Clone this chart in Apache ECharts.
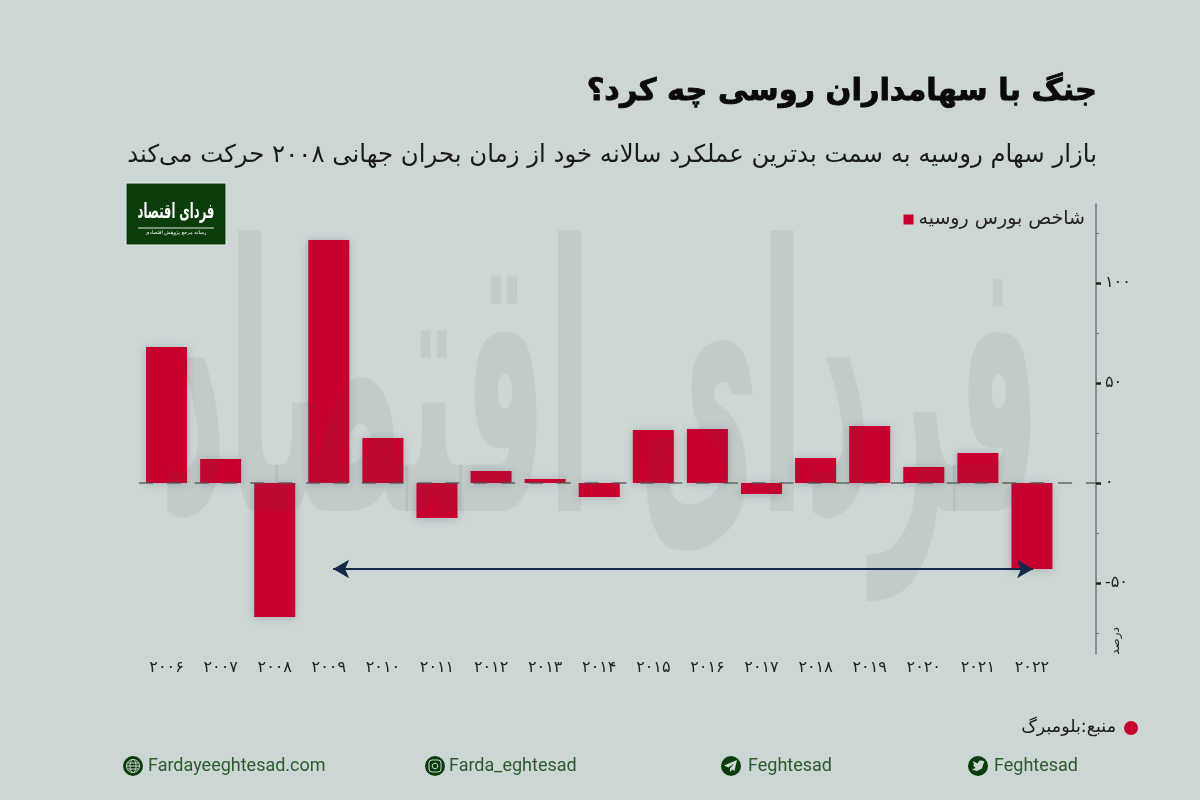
<!DOCTYPE html>
<html dir="rtl"><head><meta charset="utf-8">
<style>html,body{margin:0;padding:0;background:#ccd6d5}#c{position:absolute;left:0;top:0;width:1200px;height:800px}</style>
<script src="https://cdn.jsdelivr.net/npm/echarts@6/dist/echarts.min.js"></script>
</head><body><div id="c"></div>
<script>
const categories=['۲۰۰۶','۲۰۰۷','۲۰۰۸','۲۰۰۹','۲۰۱۰','۲۰۱۱','۲۰۱۲','۲۰۱۳','۲۰۱۴','۲۰۱۵','۲۰۱۶','۲۰۱۷','۲۰۱۸','۲۰۱۹','۲۰۲۰','۲۰۲۱','۲۰۲۲'];
const indexValues=[68,12,-67,121.5,22.5,-17.5,6,2,-7,26.5,27,-5.5,12.5,28.5,8,15,-43];
const majorTicks=[-50,0,50,100];
const minorTicks=[-75,-25,25,75,125];
const arrowSpan=[3.08,16.02];
const arrowLevel=-43;
const seriesName='شاخص بورس روسیه';
const titleText='جنگ با سهامداران روسی چه کرد؟';
const subtitleText='بازار سهام روسیه به سمت بدترین عملکرد سالانه خود از زمان بحران جهانی ۲۰۰۸ حرکت می‌کند';
const sourceText='منبع:بلومبرگ';
const unitText='درصد';
const logoText='فردای اقتصاد';
const logoCaption='رسانه مرجع پژوهش اقتصادی';
const socials=[['Fardayeeghtesad.com',133,148],['Farda_eghtesad',435,449],['Feghtesad',731,748],['Feghtesad',978,994]];
const FA='"DejaVu Sans"';
const BG='#ccd6d5',GREEN='#0b3d0b';
const fa=v=>String(v).replace(/\d/g,d=>'۰۱۲۳۴۵۶۷۸۹'[d]);
const chart=echarts.init(document.getElementById('c'),null,{renderer:'canvas'});
const g=[
 {type:'text',z:10,silent:true,x:600,y:415,scaleX:1,scaleY:2.8,style:{text:logoText,font:'bold 132px '+FA,fill:'rgba(60,80,70,0.08)',textAlign:'center',textVerticalAlign:'middle'}},
 {type:'rect',z:1,shape:{x:126,y:183,width:100,height:62},style:{fill:GREEN,stroke:'#e6ecea',lineWidth:1}},
 {type:'text',z:2,x:176,y:213,scaleY:1.8,style:{text:logoText,font:'bold 11.5px '+FA,fill:'#fff',textAlign:'center',textVerticalAlign:'middle'}},
 {type:'line',z:2,shape:{x1:138,y1:228,x2:214,y2:228},style:{stroke:'#dfe8df',lineWidth:1}},
 {type:'text',z:2,style:{text:logoCaption,x:176,y:233,font:'5px '+FA,fill:'#fff',textAlign:'center',textVerticalAlign:'middle'}},
 {type:'text',style:{text:titleText,x:1097,y:92,font:'bold 30.4px '+FA,fill:'#0a0a0a',stroke:'#0a0a0a',lineWidth:0.9,textAlign:'right',textVerticalAlign:'middle'}},
 {type:'text',style:{text:subtitleText,x:1097,y:156,font:'24.4px '+FA,fill:'#1a1a1a',textAlign:'right',textVerticalAlign:'middle'}},
 {type:'text',x:1116,y:641,rotation:Math.PI/2,style:{text:unitText,font:'12px '+FA,fill:'#222',textAlign:'center',textVerticalAlign:'middle'}},
 {type:'circle',shape:{cx:1131,cy:728,r:7},style:{fill:'#c8002f'}},
 {type:'text',style:{text:sourceText,x:1116,y:727,font:'17.5px '+FA,fill:'#1a1a1a',textAlign:'right',textVerticalAlign:'middle'}}
];
const iconLine={stroke:BG,fill:'none',lineWidth:1};
socials.forEach((s,i)=>{
 const cx=s[1],cy=766;
 g.push({type:'circle',shape:{cx,cy,r:10},style:{fill:GREEN}});
 if(i===0){
  g.push({type:'circle',shape:{cx,cy,r:6.5},style:iconLine});
  g.push({type:'ellipse',shape:{cx,cy,rx:3,ry:6.5},style:iconLine});
  g.push({type:'line',shape:{x1:cx-6.5,y1:cy,x2:cx+6.5,y2:cy},style:iconLine});
  g.push({type:'line',shape:{x1:cx-5.5,y1:cy-3,x2:cx+5.5,y2:cy-3},style:iconLine});
  g.push({type:'line',shape:{x1:cx-5.5,y1:cy+3,x2:cx+5.5,y2:cy+3},style:iconLine});
 }else if(i===1){
  g.push({type:'rect',shape:{x:cx-6,y:cy-6,width:12,height:12,r:3},style:iconLine});
  g.push({type:'circle',shape:{cx,cy,r:2.8},style:iconLine});
 }else if(i===2){
  g.push({type:'polygon',shape:{points:[[cx+6,cy-6],[cx-7,cy-0.5],[cx-2.5,cy+1.5],[cx+3,cy-2.5],[cx-1,cy+2.5],[cx-1,cy+6],[cx+1.5,cy+3.5],[cx+3.5,cy+5]]},style:{fill:BG}});
 }else{
  g.push({type:'polygon',shape:{points:[[cx+6.5,cy-4.5],[cx+4,cy-5.5],[cx+1.5,cy-5.5],[cx-0.5,cy-2.5],[cx-5,cy-5],[cx-4,cy-1],[cx-5,cy-1],[cx-2.5,cy+2],[cx-6,cy+3.5],[cx-1,cy+5],[cx+4,cy+2.5],[cx+5.5,cy-2.5]]},style:{fill:BG}});
 }
 g.push({type:'text',style:{text:s[0],x:s[2],y:766,font:'18px Roboto',fill:'#2c5a2c',textAlign:'left',textVerticalAlign:'middle'}});
});
chart.setOption({
 backgroundColor:BG,animation:false,
 textStyle:{fontFamily:FA},
 graphic:{elements:g},
 legend:{show:true,right:110,top:205,itemWidth:10,itemHeight:10,itemGap:14,icon:'rect',textStyle:{fontFamily:FA,fontSize:19,color:'#222'},data:[seriesName]},
 grid:{left:139.5,right:141,top:204,bottom:146,containLabel:false},
 xAxis:[{type:'category',data:categories,position:'bottom',axisLine:{show:false,onZero:false},axisTick:{show:false},
  axisLabel:{interval:0,margin:6,fontFamily:FA,fontSize:16,color:'#222'}},
  {type:'value',min:-0.5,max:16.5,show:false}],
 yAxis:[{type:'value',position:'right',offset:37,min:-85.5,max:139.5,
  splitLine:{show:false},
  axisLine:{show:true,onZero:false,lineStyle:{color:'#6f7777',width:1.5}},
  axisTick:{show:true,length:5,customValues:majorTicks,lineStyle:{color:'#222',width:2.5}},
  axisLabel:{margin:9,padding:[4,0,0,0],fontFamily:FA,fontSize:16,color:'#222',align:'left',customValues:majorTicks,
   formatter:v=>(v<0?'\u200E-'+fa(-v):fa(v))}},
  {type:'value',position:'right',offset:37,min:-85.5,max:139.5,
  splitLine:{show:false},axisLine:{show:false,onZero:false},axisLabel:{show:false},
  axisTick:{show:true,length:3,customValues:minorTicks,lineStyle:{color:'#6f7777',width:1}}}],
 series:[{name:seriesName,type:'bar',barWidth:41,z:3,data:indexValues,
  itemStyle:{color:'#c8002f',shadowBlur:8,shadowColor:'rgba(60,60,60,0.25)',shadowOffsetY:1},
  markLine:{silent:true,z:20,symbol:'none',label:{show:false},lineStyle:{type:[14,13.85],color:'rgba(80,85,85,0.65)',width:2},
   data:[[{x:139,y:483},{x:1096,y:483}]]}},
  {name:'arrow',type:'line',xAxisIndex:1,yAxisIndex:0,data:[],z:5,
   markLine:{silent:true,z:21,symbol:['arrow','arrow'],symbolSize:[14,16],label:{show:false},lineStyle:{type:'solid',color:'#14284a',width:2},
   data:[[{coord:[arrowSpan[0],arrowLevel]},{coord:[arrowSpan[1],arrowLevel]}]]}}]
});
</script></body></html>
